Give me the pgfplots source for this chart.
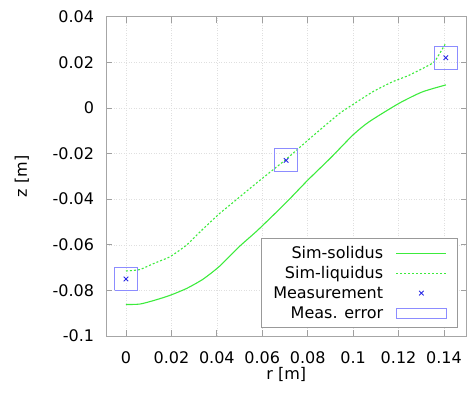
\documentclass[border=0pt]{standalone}
\usepackage{fontspec}
\setmainfont{DejaVu Sans}
\usepackage{pgfplots}
\usepackage{pgfplotstable}
\pgfplotsset{compat=1.18}
\definecolor{simgreen}{RGB}{60,235,60}
\definecolor{measblue}{RGB}{40,40,230}
\definecolor{errblue}{RGB}{140,140,255}
\newcommand\legstrut{\rule[-1.7bp]{0pt}{15bp}}
\pgfplotsset{
  lineleg/.style={legend image code/.code={\draw[##1] (0bp,0bp) -- (50bp,0bp);}},
  markleg/.style={legend image code/.code={\draw[mark repeat=2,mark phase=2,##1] plot coordinates {(0bp,0bp) (25bp,0bp) (50bp,0bp)};}},
  boxleg/.style={legend image code/.code={\draw[##1] (0bp,-5bp) rectangle (50bp,5bp);}},
}
\pgfplotstableread{
x y
0 -0.0862
0.0061 -0.0860
0.0127 -0.0843
0.0193 -0.0822
0.0266 -0.0792
0.0339 -0.0751
0.0412 -0.0694
0.05 -0.0607
0.058 -0.0536
0.07 -0.0420
0.08 -0.0317
0.09 -0.0220
0.1 -0.0118
0.107 -0.0061
0.12 0.0019
0.1304 0.0070
0.1409 0.0101
}\solidus
\pgfplotstableread{
x y
0 -0.0715
0.006 -0.0709
0.0127 -0.0680
0.0193 -0.0653
0.0266 -0.0602
0.0340 -0.0530
0.0412 -0.0463
0.0456 -0.0427
0.0580 -0.0325
0.0705 -0.0225
0.0820 -0.0125
0.0939 -0.0025
0.0982 0.0004
0.1085 0.0070
0.1172 0.0114
0.1246 0.0143
0.1333 0.0187
0.1360 0.0205
0.1405 0.0279
}\liquidus
\pgfplotstableread{
x y
0 -0.075
0.0705 -0.023
0.1408 0.022
}\meas
\pgfplotstableread{
x y
-0.005 -0.080
0.005 -0.080
0.005 -0.070
-0.005 -0.070
-0.005 -0.080
nan nan
0.0655 -0.028
0.0755 -0.028
0.0755 -0.018
0.0655 -0.018
0.0655 -0.028
nan nan
0.1358 0.017
0.1458 0.017
0.1458 0.027
0.1358 0.027
0.1358 0.017
}\boxes
\begin{document}
\fontsize{16bp}{19bp}\selectfont
\begin{tikzpicture}
\useasboundingbox (0,0) rectangle (471bp,397bp);
\begin{axis}[
  at={(106bp,61bp)}, anchor=south west,
  scale only axis, width=360.7bp, height=319.3bp,
  xmin=-0.0088, xmax=0.15, ymin=-0.1, ymax=0.04,
  xtick={0,0.02,0.04,0.06,0.08,0.1,0.12,0.14},
  ytick={-0.1,-0.08,-0.06,-0.04,-0.02,0,0.02,0.04},
  scaled ticks=false,
  /pgf/number format/.cd, fixed, precision=2, assume math mode=true, /pgfplots/.cd,
  xticklabel style={anchor=north, inner sep=0pt, yshift=-15bp},
  yticklabel style={anchor=east, inner sep=0pt, xshift=-11.7bp},
  xlabel={r [m]}, ylabel={z [m]},
  xlabel style={at={(axis description cs:0.5,-0.122)}, anchor=center},
  ylabel style={at={(axis description cs:-0.233,0.5)}, anchor=center},
  axis line style={draw=gray!70, line width=0.8bp},
  tick style={draw=gray!75, line width=0.8bp},
  major tick length=6bp,
  grid=major, grid style={draw=gray!25, dash pattern=on 1bp off 1.5bp, line width=0.5bp},
  legend plot pos=right,
  legend cell align=right,
  legend style={at={(axis description cs:0.974,0.306)}, anchor=north east,
    draw=gray!80, fill=white, line width=0.8bp,
    inner xsep=10bp, inner ysep=4.6bp, column sep=10.7bp, row sep=0.3bp,
    cells={inner sep=0pt}},
]
\addplot[color=simgreen, draw=simgreen, line width=1.1bp, no marks, smooth, tension=0.4, lineleg] table {\solidus};
\addlegendentry{\legstrut Sim-solidus}
\addplot[color=simgreen, draw=simgreen, line width=1.1bp, no marks, smooth, tension=0.3, dash pattern=on 2bp off 2bp, lineleg] table {\liquidus};
\addlegendentry{\legstrut Sim-liquidus}
\addplot[only marks, mark=x, mark size=3.2bp, color=measblue, draw=measblue, mark options={line width=0.9bp, draw=measblue}, markleg] table {\meas};
\addlegendentry{\legstrut Measurement}
\addplot[color=errblue, draw=errblue, line width=1bp, no marks, unbounded coords=jump, boxleg] table {\boxes};
\addlegendentry{\legstrut Meas. error}
\end{axis}
\end{tikzpicture}
\end{document}
